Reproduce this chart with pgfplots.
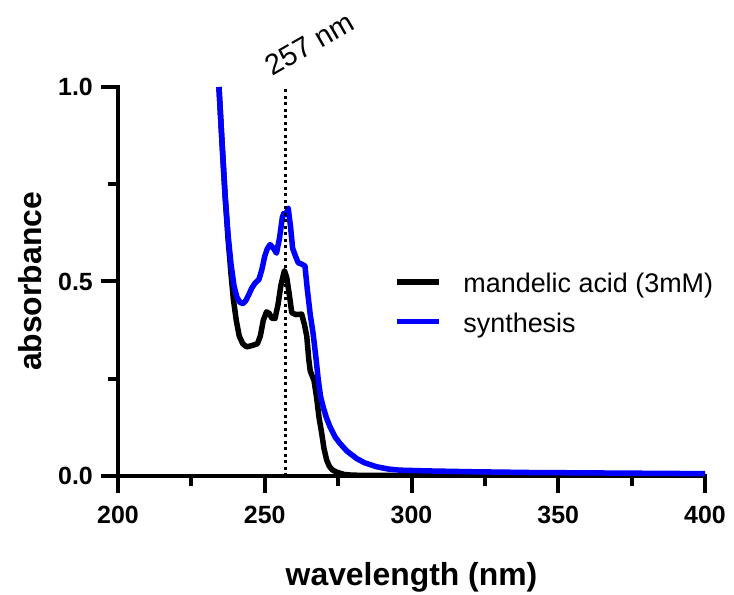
\documentclass[border=0pt]{standalone}
\usepackage{fontspec}
\setmainfont{Liberation Sans}
\usepackage{pgfplots}
\pgfplotsset{compat=1.18}
\definecolor{pblue}{RGB}{0,0,255}
\begin{document}
\begin{tikzpicture}
\useasboundingbox (-118bp,-119bp) rectangle (616bp,476bp);
\begin{axis}[
  scale only axis, width=587bp, height=389bp,
  anchor=south west, at={(0,0)},
  xmin=200, xmax=400, ymin=0, ymax=1,
  axis x line*=bottom, axis y line*=left,
  axis line style={line width=4.5bp, line cap=rect, black},
  xtick={200,250,300,350,400}, ytick={0,0.5,1},
  minor xtick={225,275,325,375}, minor ytick={0.25,0.75},
  tick align=outside,
  major tick length=17bp, minor tick length=10bp,
  tick style={line width=4bp, black},
  /pgf/number format/assume math mode=true,
  tick label style={font=\fontsize{25}{30}\selectfont\bfseries, inner sep=0pt},
  xticklabel style={anchor=north, yshift=-13bp},
  yticklabel style={anchor=east, xshift=-8bp, /pgf/number format/.cd, fixed, fixed zerofill, precision=1},
  xlabel={wavelength (nm)}, ylabel={absorbance},
  label style={font=\fontsize{32}{38}\selectfont\bfseries, inner sep=0pt},
  xlabel style={at={([yshift=-109bp]axis description cs:0.5,0)}, anchor=base},
  ylabel style={at={([xshift=-76bp]axis description cs:0,0.5)}, anchor=base, rotate=0},
  legend style={draw=none, fill=none, inner sep=0pt, outer sep=0pt,
    at={(axis cs:294.2,0.522)}, anchor=north west,
    font=\fontsize{27}{32}\selectfont, column sep=21.5bp, row sep=13.5bp,
    nodes={inner sep=0pt, text height=20bp, text depth=6bp},
    cells={anchor=base west}},
  legend image code/.code={\draw[#1] (0bp,10.7bp) -- (42bp,10.7bp);},
]
\addplot[black, line width=5.5bp, line join=round] coordinates {
(234.4,1.0) (235.5,0.85) (236.5,0.72) (237.5,0.61) (238.5,0.52) (239.3,0.455)
(240.3,0.40) (241.3,0.36) (242.5,0.34) (243.8,0.332) (245.5,0.335) (247.5,0.34)
(248.5,0.36) (249.5,0.40) (250.6,0.422) (251.5,0.418) (252.5,0.405) (253.5,0.405)
(254.5,0.44) (255.5,0.49) (256.7,0.528) (257.5,0.51) (258.3,0.47) (259.2,0.42)
(260.5,0.415) (262.6,0.416) (263.5,0.39) (264.3,0.36) (265,0.30) (265.5,0.27)
(266.8,0.245) (267.7,0.20) (268.5,0.15) (269.4,0.11) (270.2,0.07) (271.1,0.041)
(272,0.025) (273,0.016) (274.5,0.01) (277,0.004) (280,0.002) (300,0.001) (400,0.0)
};
\addlegendentry{mandelic acid (3mM)}
\addplot[pblue, line width=5.5bp, line join=round] coordinates {
(234.4,1.0) (235.5,0.85) (236.5,0.72) (237.5,0.62) (238.5,0.545) (239.5,0.49)
(240.5,0.46) (241.5,0.447) (242.5,0.443) (243.5,0.45) (244.5,0.465) (245.5,0.482)
(246.7,0.496) (248,0.505) (249,0.53) (250,0.565) (250.8,0.583) (251.8,0.595)
(253,0.585) (254,0.573) (255,0.61) (256,0.665) (256.5,0.675) (257.2,0.672)
(258,0.688) (258.8,0.64) (259.5,0.585) (260.5,0.565) (261.4,0.548) (262.5,0.545)
(263.7,0.54) (264.5,0.48) (265.5,0.415) (266.5,0.365) (267.5,0.30) (268.2,0.25)
(269,0.205) (270,0.175) (271,0.15) (272.2,0.127) (274,0.10) (275.6,0.084)
(278,0.064) (281.3,0.045) (284,0.034) (288,0.024) (292,0.018) (296,0.015)
(306,0.013) (320,0.011) (340,0.009) (360,0.008) (380,0.007) (400,0.006)
};
\addlegendentry{synthesis}
\addplot[black, line width=2.5bp, dash pattern=on 3bp off 3.5bp, forget plot] coordinates {(257,0) (257,1)};
\coordinate (peak) at (axis cs:257,1);
\end{axis}
\node[rotate=30, anchor=base west, inner sep=0pt, font=\fontsize{29}{34}\selectfont]
  at ([xshift=-12.5bp, yshift=10bp]peak) {257 nm};
\end{tikzpicture}
\end{document}
